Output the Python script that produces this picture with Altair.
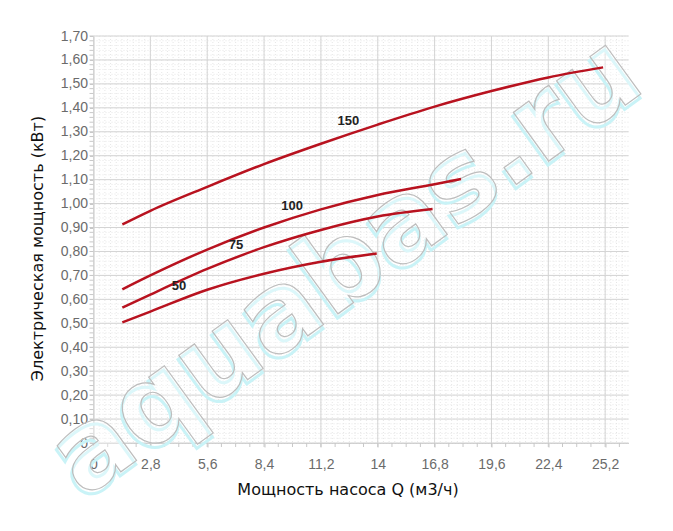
import altair as alt
import numpy as np
import pandas as pd

# ---- data ----
q_150 = [1.42, 2.8, 5.6, 8.4, 11.2, 14.0, 16.8, 19.6, 22.4, 25.1]
p_150 = [0.913, 0.97, 1.07, 1.165, 1.25, 1.33, 1.405, 1.47, 1.527, 1.569]
q_100 = [1.42, 2.8, 5.6, 8.4, 11.2, 14.0, 16.8, 18.1]
p_100 = [0.642, 0.70, 0.808, 0.90, 0.976, 1.036, 1.081, 1.103]
q_75 = [1.42, 2.8, 5.6, 8.4, 11.2, 14.0, 16.7]
p_75 = [0.565, 0.62, 0.727, 0.818, 0.89, 0.946, 0.977]
q_50 = [1.42, 2.8, 5.6, 8.4, 11.2, 13.95]
p_50 = [0.504, 0.549, 0.64, 0.707, 0.757, 0.792]

label_text = ["150", "100", "75", "50"]
label_q = [12.55, 9.78, 7.02, 4.21]
label_p = [1.345, 0.99, 0.827, 0.656]

x_ticks = [0, 2.8, 5.6, 8.4, 11.2, 14, 16.8, 19.6, 22.4, 25.2]
y_ticks = [0, 0.1, 0.2, 0.3, 0.4, 0.5, 0.6, 0.7, 0.8, 0.9, 1.0, 1.1, 1.2,
           1.3, 1.4, 1.5, 1.6, 1.7]
x_minor_ticks = [round(v, 2) for v in np.arange(0, 26.3, 0.7)]
y_minor_ticks = [round(v, 2) for v in np.arange(0, 1.7001, 0.02)]
x_minor_grid = [round(v, 2) for v in np.arange(0, 26.3, 0.28)]

X_MAX = 26.35
Y_MAX = 1.70
W, H = 535, 407

rows = []
for name, qs, ps in [("150", q_150, p_150), ("100", q_100, p_100),
                     ("75", q_75, p_75), ("50", q_50, p_50)]:
    for q, p in zip(qs, ps):
        rows.append({"series": name, "q": q, "p": p})
curves = pd.DataFrame(rows)
labels = pd.DataFrame({"t": label_text, "q": label_q, "p": label_p})

xs = alt.Scale(domain=[0, X_MAX], nice=False, zero=False)
ys = alt.Scale(domain=[0, Y_MAX], nice=False, zero=False)

lbl_x = "replace(format(datum.value, '.1~f'), '.', ',')"
lbl_y = "datum.value == 0 ? '0' : replace(format(datum.value, '.2f'), '.', ',')"

ax_x = alt.Axis(
    values=x_ticks, labelExpr=lbl_x, grid=False,
    tickSize=4, tickColor="#c8c8c8", domainColor="#c8c8c8",
    labelPadding=10, labelOverlap=False, labelFlush=False,
    title="Мощность насоса Q (м3/ч)", titleX=254, titleY=38,
    titleAlign="center", titleBaseline="top")
ax_y = alt.Axis(
    values=y_ticks, labelExpr=lbl_y, grid=False,
    tickSize=4, tickColor="#c8c8c8", domainColor="#c8c8c8",
    labelPadding=2, labelOverlap=False, labelFlush=False,
    title="Электрическая мощность (кВт)", titleX=-56, titleY=212,
    titleAngle=270, titleAlign="center", titleBaseline="middle")


def X(f="q:Q"):
    return alt.X(f, scale=xs, axis=ax_x)


def Y(f="p:Q"):
    return alt.Y(f, scale=ys, axis=ax_y)


# minor dotted grid
minor_v = alt.Chart(pd.DataFrame({"q": x_minor_grid})).mark_rule(
    color="#e6e6e6", strokeDash=[1, 2], strokeWidth=1
).encode(x=X())
minor_h = alt.Chart(pd.DataFrame({"p": y_minor_ticks})).mark_rule(
    color="#e6e6e6", strokeDash=[1, 2], strokeWidth=1
).encode(y=Y())
# major grid
major_v = alt.Chart(pd.DataFrame({"q": x_ticks})).mark_rule(
    color="#d4d4d4", strokeWidth=1
).encode(x=X())
major_h = alt.Chart(pd.DataFrame({"p": y_ticks})).mark_rule(
    color="#d4d4d4", strokeWidth=1
).encode(y=Y())
# minor tick marks outside the plot
tick_x = alt.Chart(pd.DataFrame({"q": x_minor_ticks})).mark_rule(
    color="#c8c8c8", strokeWidth=1
).encode(x=X(), y=alt.value(H), y2=alt.value(H + 4))
tick_y = alt.Chart(pd.DataFrame({"p": y_minor_ticks})).mark_rule(
    color="#c8c8c8", strokeWidth=1
).encode(y=Y(), x=alt.value(-4), x2=alt.value(0))

# watermark
wm = pd.DataFrame({"t": ["aquabas.ru"]})
wm_glow = alt.Chart(wm).mark_text(
    angle=324, fontSize=110, font="DejaVu Sans", fontWeight="bold",
    fill="white", fillOpacity=0, stroke="#c9f3f7", strokeWidth=3,
    align="center", baseline="middle", dx=-3, dy=3
).encode(x=alt.value(253), y=alt.value(231), text="t:N")
wm_text = alt.Chart(wm).mark_text(
    angle=324, fontSize=110, font="DejaVu Sans", fontWeight="bold",
    fill="white", fillOpacity=0.35, stroke="#bdbdbd", strokeWidth=1.2,
    align="center", baseline="middle"
).encode(x=alt.value(253), y=alt.value(231), text="t:N")

lines = alt.Chart(curves).mark_line(
    color="#b8121f", strokeWidth=2.5, interpolate="monotone"
).encode(x=X(), y=Y(), detail="series:N")

text = alt.Chart(labels).mark_text(
    font="Liberation Sans", fontSize=13, fontWeight="bold", color="#222222",
    align="center", baseline="middle"
).encode(x=X(), y=Y(), text="t:N")

chart = alt.layer(
    minor_v, minor_h, major_v, major_h, tick_x, tick_y,
    wm_glow, wm_text, lines, text
).properties(
    width=W, height=H,
    autosize=alt.AutoSizeParams(type="none"),
    padding={"left": 85.5, "top": 28, "right": 36.5, "bottom": 80},
    background="white",
).configure_view(strokeWidth=0).configure_axis(
    labelFont="Liberation Sans", labelFontSize=14, labelColor="#6b6b6b",
    titleFont="DejaVu Sans", titleFontSize=16, titleColor="#111111",
    titleFontWeight="normal",
)

chart.save("out.html", embed_options={"renderer": "svg", "actions": False})
